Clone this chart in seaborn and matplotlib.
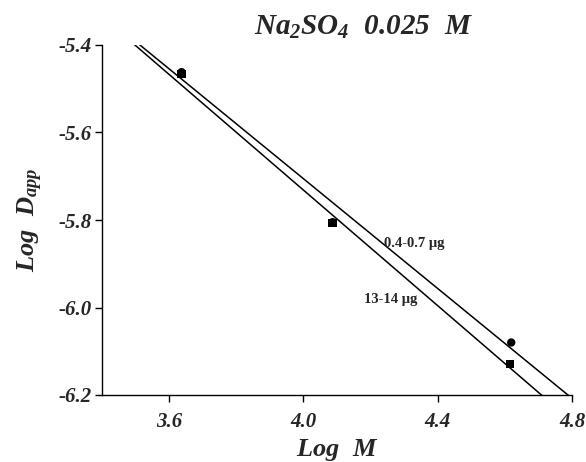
import numpy as np
import pandas as pd
import matplotlib
matplotlib.use('Agg')
import matplotlib.pyplot as plt
import seaborn as sns

# data
log_m_small = [3.637, 4.087, 4.619]          # 0.4-0.7 ug (circles)
log_d_small = [-5.462, -5.805, -6.080]
log_m_large = [3.637, 4.087, 4.616]          # 13-14 ug (squares)
log_d_large = [-5.466, -5.8075, -6.129]

# fitted lines (slope, intercept) as drawn in the figure
fit_small = (-0.6275, -3.1956)
fit_large = (-0.6606, -3.0892)

x_ticks = [3.6, 4.0, 4.4, 4.8]
y_ticks = [-6.2, -6.0, -5.8, -5.6, -5.4]
y_ticklabels = ['-6.2', '-6.0', '-5.8', '-5.6', '-5.4']

sns.set_style('ticks')
plt.rcParams['font.family'] = ['Liberation Serif', 'DejaVu Serif']
plt.rcParams['mathtext.fontset'] = 'custom'
plt.rcParams['mathtext.it'] = 'Liberation Serif:italic:bold'
plt.rcParams['mathtext.rm'] = 'Liberation Serif:italic:bold'
plt.rcParams['mathtext.bf'] = 'Liberation Serif:italic:bold'

fig = plt.figure(figsize=(5.86, 4.62), dpi=100)
ax = fig.add_axes([102 / 586, 1 - 395 / 462, 470 / 586, 350 / 462])

# fit lines over the full x range, clipped by the axes
x_grid = np.array([3.4, 4.8])
lines = pd.DataFrame({
    'x': np.concatenate([x_grid, x_grid]),
    'y': np.concatenate([fit_small[0] * x_grid + fit_small[1],
                         fit_large[0] * x_grid + fit_large[1]]),
    'group': ['small'] * 2 + ['large'] * 2,
})
sns.lineplot(data=lines, x='x', y='y', units='group', estimator=None,
             color='black', linewidth=1.1, ax=ax, legend=False)

sns.scatterplot(x=log_m_small, y=log_d_small, marker='o', s=36,
                color='black', edgecolor='none', ax=ax, zorder=3)
sns.scatterplot(x=log_m_large, y=log_d_large, marker='s', s=36,
                color='black', edgecolor='none', ax=ax, zorder=4)

ax.set_xlim(3.4, 4.8)
ax.set_ylim(-6.2, -5.4)
ax.set_xticks(x_ticks)
ax.set_xticklabels(['3.6', '4.0', '4.4', '4.8'])
ax.set_yticks(y_ticks)
ax.set_yticklabels(y_ticklabels)
for lab in ax.get_xticklabels() + ax.get_yticklabels():
    lab.set_fontweight('bold')
    lab.set_fontstyle('italic')
    lab.set_fontsize(15)
ax.tick_params(axis='both', direction='out', length=5, width=1, color='black')
ax.tick_params(axis='x', pad=7)
ax.tick_params(axis='y', pad=2)

sns.despine(ax=ax)
for side in ['left', 'bottom']:
    ax.spines[side].set_linewidth(1.0)
    ax.spines[side].set_color('black')

ax.set_xlabel(r'$Log\ \ M$', fontsize=19, labelpad=4)
ax.set_ylabel(r'$Log\ \ D_{app}$', fontsize=19, labelpad=10)

ax.text(4.329, -5.853, '0.4-0.7 \u03bcg', fontsize=10.5, fontweight='bold',
        ha='center', va='center')
ax.text(4.260, -5.981, '13-14 \u03bcg', fontsize=10.5, fontweight='bold',
        ha='center', va='center')

fig.text(364 / 586, 1 - 27 / 462, r'$Na_{2}SO_{4}\ \ 0.025\ \ M$',
         fontsize=21, ha='center', va='center')

fig.savefig('out.png', dpi=100)
